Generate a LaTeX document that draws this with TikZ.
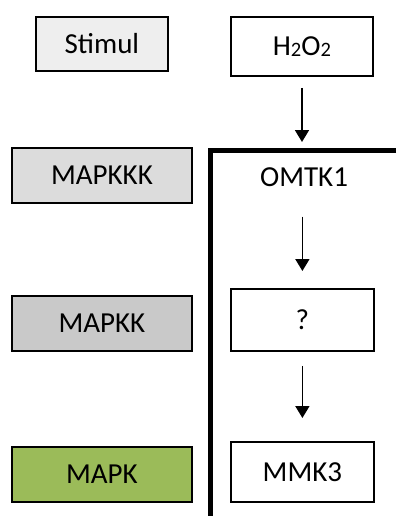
\documentclass[tikz,border=0pt]{standalone}
\usepackage{fontspec}
\setmainfont{Carlito}
\usetikzlibrary{arrows.meta}
\definecolor{greyA}{HTML}{EEEEEE}
\definecolor{greyB}{HTML}{DCDCDC}
\definecolor{greyC}{HTML}{C9C9C9}
\definecolor{mapkgreen}{HTML}{9BBB59}
% small, slightly lowered index digit
\newcommand{\idx}[1]{\raisebox{-1.5pt}{\fontsize{20.5}{21}\selectfont #1}}
\begin{document}
\begin{tikzpicture}[x=1pt,y=-1pt,
  box/.style={draw=black,line width=1.8pt,inner sep=0pt,anchor=north west,font=\fontsize{29}{31}\selectfont},
  flow/.style={line width=1.8pt,-{Triangle[length=12pt,width=14pt]}},
  bracket/.style={line width=5pt}]
\useasboundingbox (0,0) rectangle (396,516);
% left column: cascade levels
\node[box,fill=greyA,minimum width=132pt,minimum height=54pt] (stim) at (35,16) {Stimul};
\node[box,fill=greyB,minimum width=180pt,minimum height=55pt] (mkkk) at (11,147) {MAPKKK};
\node[box,fill=greyC,minimum width=180pt,minimum height=55pt] (mkk) at (11,295) {MAPKK};
\node[box,fill=mapkgreen,minimum width=180pt,minimum height=55pt] (mk) at (11,446) {MAPK};
% right column: the pathway
\node[box,fill=white,minimum width=142pt,minimum height=59pt] (h2o2) at (230,16) {H\idx{2}O\idx{2}};
\node[font=\fontsize{29}{31}\selectfont,inner sep=0pt] (omtk) at (304,177) {OMTK1};
\node[box,fill=white,minimum width=143pt,minimum height=62pt] (q) at (230,288) {?};
\node[box,fill=white,minimum width=143pt,minimum height=60pt] (mmk) at (230,441) {MMK3};
% membrane-like bracket
\coordinate (br1) at (396,150);
\coordinate (br2) at (210,150);
\coordinate (br3) at (210,516);
\draw[bracket] (br1) -- (br2) -- (br3);
% arrows
\coordinate (a1s) at (302,88);
\coordinate (a1e) at (302,142);
\draw[flow] (a1s) -- (a1e);
\draw[flow,shorten <=30pt,shorten >=17pt] (omtk.south -| q.north) -- (q.north);
\draw[flow,shorten <=14pt,shorten >=23pt] (q.south) -- (mmk.north);
\end{tikzpicture}
\end{document}
